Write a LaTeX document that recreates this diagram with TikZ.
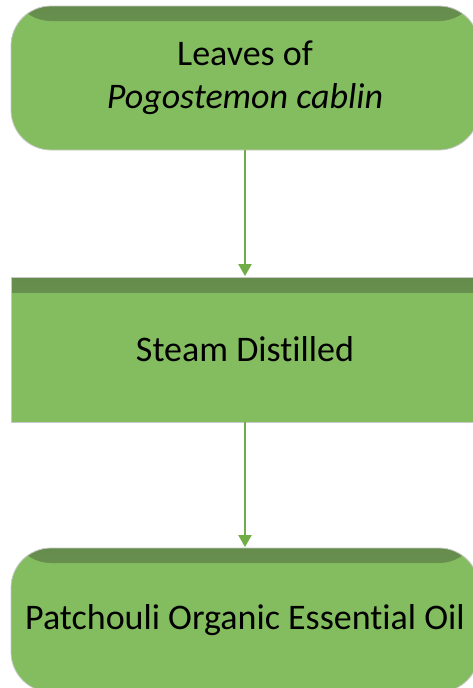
\documentclass[tikz,border=0pt]{standalone}
\usepackage{fontspec}
\setmainfont{Carlito}[Ligatures=NoCommon]
\usetikzlibrary{arrows.meta}
\definecolor{boxfill}{RGB}{132,189,96}
\definecolor{boxdark}{RGB}{101,140,76}
\definecolor{boxedge}{RGB}{200,200,200}
\definecolor{arrowgreen}{RGB}{112,173,71}
\tikzset{
  stepshade/.style={path picture={
      \fill[top color=boxdark, bottom color=boxfill, middle color=boxdark!70!boxfill]
        (path picture bounding box.north west) rectangle
        ([yshift=-15pt]path picture bounding box.north east);}},
  basebox/.style={fill=boxfill, draw=boxedge, line width=0.8pt,
      minimum width=468pt, inner sep=0pt, align=center,
      font=\fontsize{36}{43}\selectfont, stepshade},
  roundbox/.style={basebox, rounded corners=40pt, minimum height=144pt},
  squarebox/.style={basebox, minimum height=145pt},
  flowarrow/.style={draw=arrowgreen, line width=2pt,
      -{Triangle[width=13pt,length=12pt]}, shorten >=0.5pt}
}
\begin{document}
\begin{tikzpicture}[x=1pt,y=-1pt]
\useasboundingbox (0,0) rectangle (473,688);
\clip (0,0) rectangle (473,688);
\node[roundbox] (leaves) at (245,78) {Leaves of\\\textit{Pogostemon cablin}};
\node[squarebox] (steam) at (245,349.5) {Steam Distilled};
\node[roundbox] (oil) at (245,620) {Patchouli Organic Essential Oil};
\draw[flowarrow] (leaves.south) -- (steam.north);
\draw[flowarrow] (steam.south) -- (oil.north);
\end{tikzpicture}
\end{document}
